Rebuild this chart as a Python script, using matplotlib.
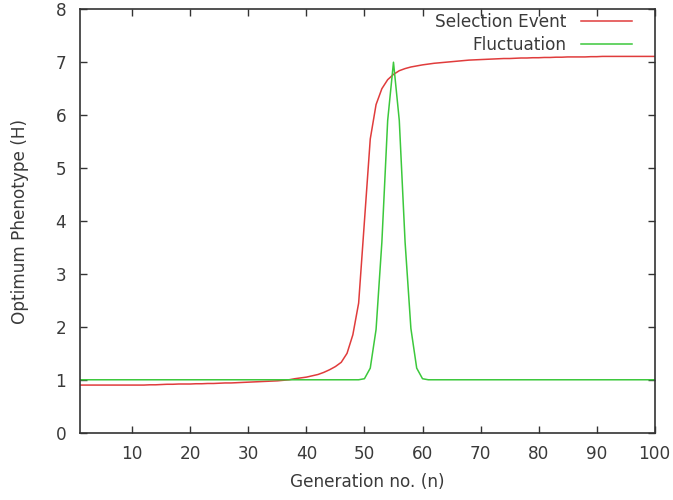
import matplotlib
matplotlib.use("Agg")
import matplotlib.pyplot as plt
import numpy as np

generations = list(range(1, 101))

selection_event = [
    0.90, 0.90, 0.90, 0.90, 0.90, 0.90, 0.90, 0.90, 0.90, 0.90,
    0.90, 0.90, 0.905, 0.905, 0.91, 0.915, 0.915, 0.92, 0.92, 0.92,
    0.925, 0.925, 0.93, 0.93, 0.935, 0.94, 0.94, 0.945, 0.95, 0.955,
    0.96, 0.965, 0.97, 0.975, 0.98, 0.99, 1.0, 1.02, 1.035, 1.05,
    1.075, 1.10, 1.14, 1.19, 1.25, 1.33, 1.5, 1.85, 2.45, 4.0,
    5.55, 6.2, 6.5, 6.67, 6.77, 6.84, 6.88, 6.91, 6.93, 6.95,
    6.965, 6.98, 6.99, 7.0, 7.01, 7.02, 7.03, 7.04, 7.045, 7.05,
    7.055, 7.06, 7.065, 7.07, 7.07, 7.075, 7.08, 7.08, 7.085, 7.085,
    7.09, 7.09, 7.095, 7.095, 7.10, 7.10, 7.10, 7.10, 7.105, 7.105,
    7.11, 7.11, 7.11, 7.11, 7.11, 7.11, 7.11, 7.11, 7.11, 7.11,
]

fluctuation = [1.0] * 49 + [1.02, 1.22, 1.95, 3.6, 5.9, 7.0, 5.9, 3.6, 1.97, 1.22, 1.02] + [1.0] * 40

x_ticks = [10, 20, 30, 40, 50, 60, 70, 80, 90, 100]
y_ticks = [0, 1, 2, 3, 4, 5, 6, 7, 8]

text_color = "#3a3a3a"
fs = 12.2
plt.rcParams["font.family"] = ["DejaVu Sans"]

fig = plt.figure(figsize=(6.73, 5.00), dpi=100)
ax = fig.add_axes([0.1189, 0.1346, 0.9728 - 0.1189, 0.9814 - 0.1346])

ax.plot(generations, selection_event, color="#e03c3c", lw=1.1, label="Selection Event")
ax.plot(generations, fluctuation, color="#3cc83c", lw=1.1, label="Fluctuation")

ax.set_xlim(1, 100)
ax.set_ylim(0, 8)
ax.set_xticks(x_ticks)
ax.set_yticks(y_ticks)
ax.tick_params(direction="in", length=5, width=1, top=True, right=True,
               labelsize=fs, labelcolor=text_color, color="#333333")
ax.tick_params(axis="y", pad=10)
ax.tick_params(axis="x", pad=9)
for s in ax.spines.values():
    s.set_color("#333333")
    s.set_linewidth(1.2)

ax.set_xlabel("Generation no. (n)", fontsize=fs, color=text_color, labelpad=7)
ax.set_ylabel("Optimum Phenotype (H)", fontsize=fs, color=text_color, labelpad=19)

leg = ax.legend(loc="upper right", frameon=False, markerfirst=False, fontsize=fs,
                handlelength=3.0, handletextpad=0.9, labelspacing=0.3,
                borderaxespad=0.0, borderpad=0.0, bbox_to_anchor=(0.9605, 0.992))
for t in leg.get_texts():
    t.set_color(text_color)

fig.savefig("out.png", dpi=100)
